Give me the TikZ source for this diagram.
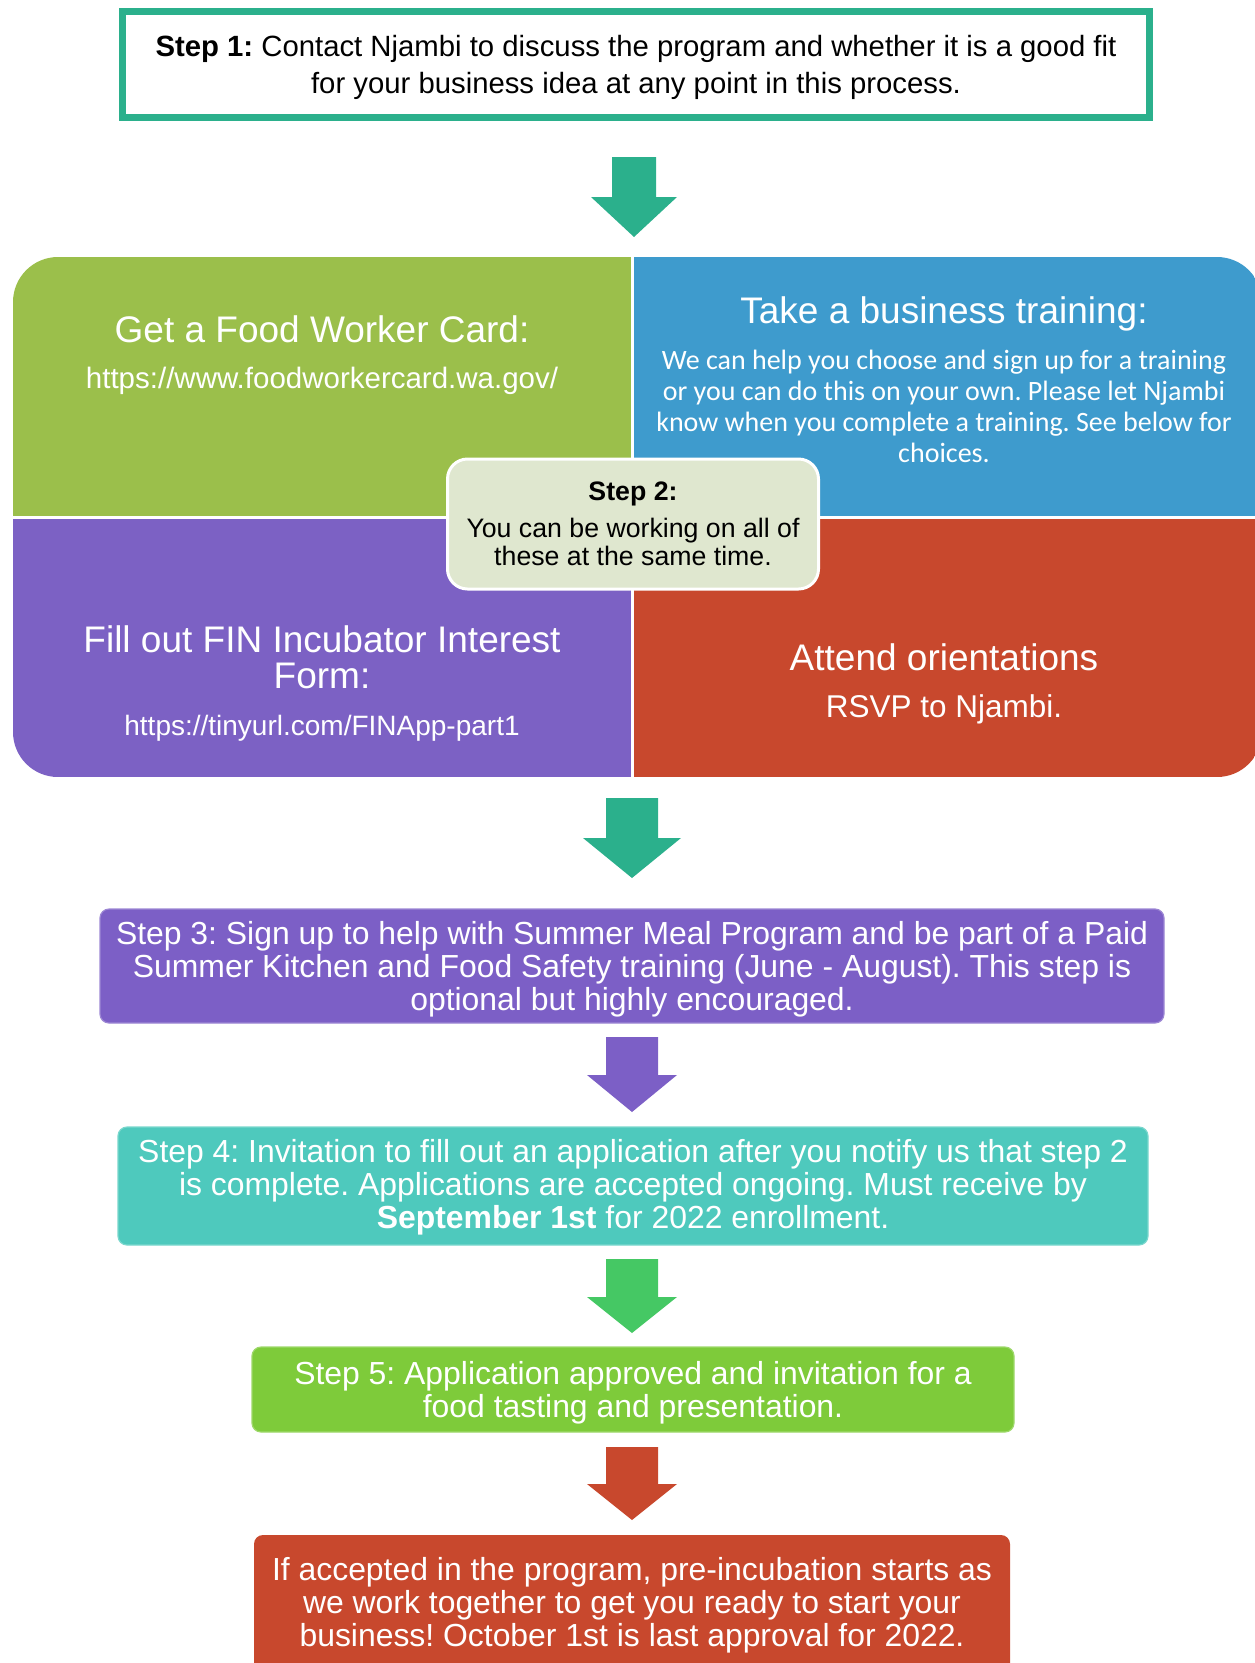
\documentclass[tikz,border=0pt]{standalone}
\usepackage{fontspec}
\setmainfont{Liberation Sans}
\newfontfamily\carlito{Carlito}
\frenchspacing
\definecolor{tealA}{RGB}{43,176,140}
\definecolor{qgreen}{RGB}{155,191,75}
\definecolor{qblue}{RGB}{62,155,205}
\definecolor{qpurple}{RGB}{124,97,196}
\definecolor{qred}{RGB}{200,72,45}
\definecolor{stwo}{RGB}{223,231,207}
\definecolor{sthree}{RGB}{124,95,198}
\definecolor{sfour}{RGB}{78,201,189}
\definecolor{agreen}{RGB}{69,200,100}
\definecolor{sfive}{RGB}{126,203,58}
\newcommand\blockarrow[7]{%
  \fill[#7] (#1-#3,#2) -- (#1+#3,#2) -- (#1+#3,#2+#5) -- (#1+#4,#2+#5)
    -- (#1,#2+#5+#6) -- (#1-#4,#2+#5) -- (#1-#3,#2+#5) -- cycle;}
\begin{document}
\begin{tikzpicture}[x=1pt,y=-1pt,
  wt/.style={text=white, align=center, inner sep=0pt},
  stepbox/.style={rounded corners=9, inner sep=0pt,
    draw=#1!75!white, fill=#1, line width=1.2},
  stepfont/.style={font=\fontsize{31.9}{33}\selectfont}]
\useasboundingbox (0,0) rectangle (1254,1663);

% Step 1
\node[draw=tealA, line width=7, fill=white, minimum width=1027, minimum height=106,
  inner sep=0pt] (s1) at (636,64.5) {};
\node[align=center, inner sep=0pt, font=\fontsize{29.3}{37}\selectfont] (s1t)
  at ([yshift=-3pt]s1.center)
  {\textbf{Step 1:} Contact Njambi to discuss the program and whether it is a good fit\\
   for your business idea at any point in this process.};

\blockarrow{634}{157}{22}{43}{40}{40}{tealA}

% quadrants
\begin{scope}
\clip[rounded corners=45] (13,257) rectangle (1262,777);
\fill[qgreen] (13,257) rectangle (632,517);
\fill[qblue] (632,257) rectangle (1262,517);
\fill[qpurple] (13,517) rectangle (632,777);
\fill[qred] (632,517) rectangle (1262,777);
\draw[white, line width=3] (632,257) -- (632,777);
\draw[white, line width=3] (13,517) -- (1262,517);
\end{scope}

\node[wt, font=\fontsize{37}{40}\selectfont] (gt) at (322,329) {Get a Food Worker Card:};
\node[wt, font=\fontsize{29.5}{32}\selectfont] (gu) at (322,381) {https://www.foodworkercard.wa.gov/};

\node[wt, font=\fontsize{37}{40}\selectfont] (bt) at (944,314) {Take a business training:};
\node[wt, font=\carlito\fontsize{28}{31}\selectfont] (bb) at (944,406)
  {We can help you choose and sign up for a training\\
   or you can do this on your own. Please let Njambi\\
   know when you complete a training. See below for\\
   choices.};

\node[wt, font=\fontsize{37}{36}\selectfont] (pt) at (322,657) {Fill out FIN Incubator Interest\\Form:};
\node[wt, font=\fontsize{28}{32}\selectfont] (pu) at (322,728) {https://tinyurl.com/FINApp-part1};

\node[wt, font=\fontsize{37}{40}\selectfont] (rt) at (944,657) {Attend orientations};
\node[wt, font=\fontsize{31.5}{34}\selectfont] (ru) at (944,709) {RSVP to Njambi.};

% Step 2
\node[fill=stwo, draw=white, line width=3, rounded corners=20, minimum width=371,
  minimum height=130] (s2) at (633,524) {};
\node[inner sep=0pt, font=\bfseries\fontsize{26.7}{28}\selectfont] (s2h) at (633,494) {Step 2:};
\node[inner sep=0pt, align=center, font=\fontsize{26.7}{28}\selectfont] (s2b) at (633,542)
  {You can be working on all of\\these at the same time.};

\blockarrow{632}{798}{26}{49}{40}{40}{tealA}

% Step 3
\node[stepbox=sthree, minimum width=1064, minimum height=114] (s3) at (632,966) {};
\node[wt, stepfont] (s3t) at ([yshift=-3pt]s3.center)
  {Step 3: Sign up to help with Summer Meal Program and be part of a Paid\\
   Summer Kitchen and Food Safety training (June - August). This step is\\
   optional but highly encouraged.};

\blockarrow{632}{1037}{26}{45}{38}{37}{sthree}

% Step 4
\node[stepbox=sfour, minimum width=1030, minimum height=118] (s4) at (633,1186) {};
\node[wt, stepfont] (s4t) at ([yshift=-1pt]s4.center)
  {Step 4: Invitation to fill out an application after you notify us that step 2\\
   is complete. Applications are accepted ongoing. Must receive by\\
   \textbf{September 1st} for 2022 enrollment.};

\blockarrow{632}{1259}{26}{45}{38}{36}{agreen}

% Step 5
\node[stepbox=sfive, minimum width=762, minimum height=85] (s5) at (633,1389.5) {};
\node[wt, stepfont] (s5t) at ([yshift=-3pt]s5.center)
  {Step 5: Application approved and invitation for a\\
   food tasting and presentation.};

\blockarrow{632}{1447}{26}{45}{37}{36}{qred}

% Final
\begin{scope}
\clip (0,0) rectangle (1254,1663);
\fill[qred, rounded corners=9] (254,1535) rectangle (1010,1700);
\end{scope}
\coordinate (s6c) at (632,1605);
\node[wt, stepfont] (s6) at (s6c)
  {If accepted in the program, pre-incubation starts as\\
   we work together to get you ready to start your\\
   business! October 1st is last approval for 2022.};
\end{tikzpicture}
\end{document}
